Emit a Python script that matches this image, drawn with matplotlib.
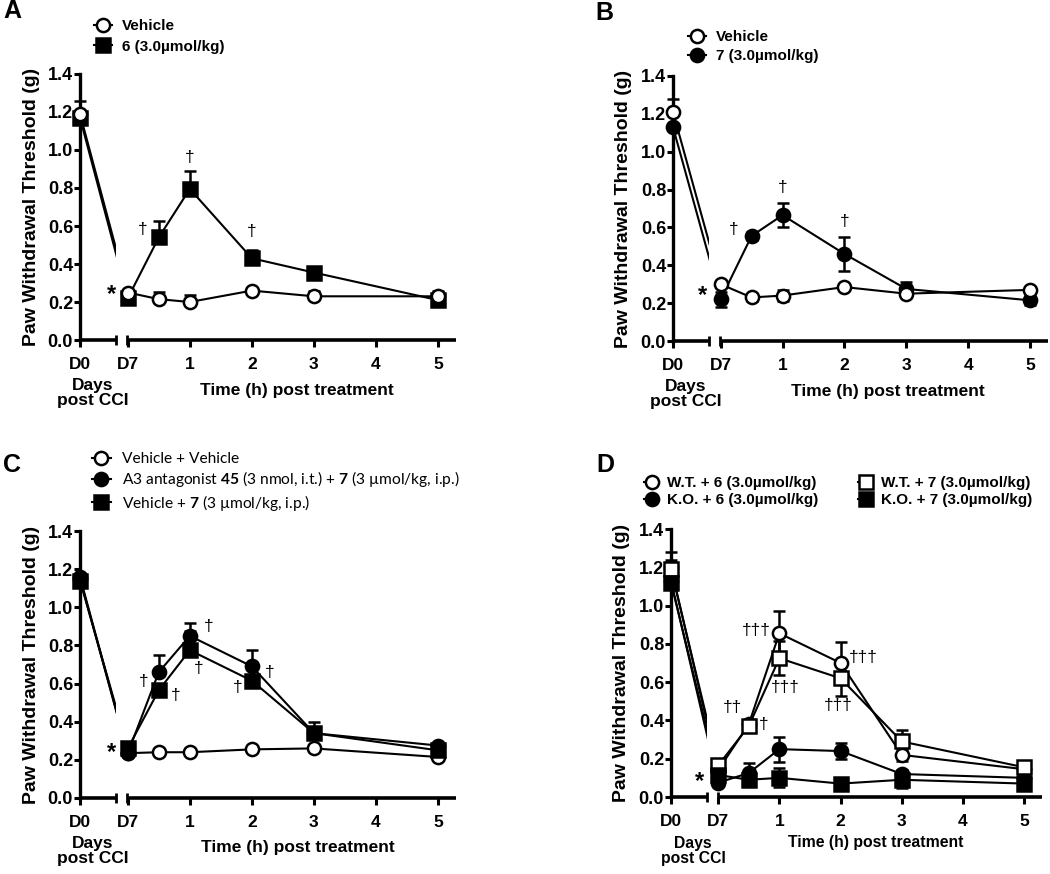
import numpy as np
import matplotlib
matplotlib.use("Agg")
import matplotlib.pyplot as plt
from matplotlib.patches import Rectangle
from matplotlib.transforms import blended_transform_factory

plt.rcParams['font.family'] = ['Liberation Sans', 'DejaVu Sans']
plt.rcParams['mathtext.fontset'] = 'custom'
plt.rcParams['mathtext.rm'] = 'Lato'
plt.rcParams['mathtext.bf'] = 'Lato:bold'

# time after treatment (h); D7 baseline sits at 0, D0 left of the axis break
times = [0, 0.5, 1, 2, 3, 5]
d0_pos = -0.77
xtick_pos = [d0_pos, 0, 1, 2, 3, 4, 5]
xtick_labels = ['D0', 'D7', '1', '2', '3', '4', '5']
yticks = [0.0, 0.2, 0.4, 0.6, 0.8, 1.0, 1.2, 1.4]

# ---- panel A
a_names = ['Vehicle', '6 (3.0µmol/kg)']
a_d0 = [1.19, 1.17]
a_d0_err = [0.07, 0.0]
a_mean = [[0.25, 0.215, 0.20, 0.26, 0.23, 0.23],
          [0.22, 0.54, 0.795, 0.43, 0.355, 0.21]]
a_sem = [[0.01, 0.04, 0.035, 0.01, 0.03, 0.03],
         [0.01, 0.085, 0.095, 0.045, 0.025, 0.02]]
a_marks = [('o', 'white'), ('s', 'black')]
a_sig = [(0.24, 0.58, '†'), (1.0, 0.96, '†'), (2.0, 0.57, '†')]
a_star = (-0.27, 0.24)

# ---- panel B
b_names = ['Vehicle', '7 (3.0µmol/kg)']
b_d0 = [1.21, 1.13]
b_d0_err = [0.07, 0.01]
b_mean = [[0.30, 0.23, 0.24, 0.285, 0.25, 0.27],
          [0.22, 0.555, 0.665, 0.46, 0.275, 0.215]]
b_sem = [[0.01, 0.02, 0.03, 0.01, 0.02, 0.01],
         [0.04, 0.02, 0.065, 0.09, 0.035, 0.025]]
b_marks = [('o', 'white'), ('o', 'black')]
b_sig = [(0.21, 0.59, '†'), (1.0, 0.81, '†'), (2.0, 0.63, '†')]
b_star = (-0.29, 0.24)

# ---- panel C
c_names = ['Vehicle + Vehicle',
           r'A3 antagonist $\mathbf{45}$ (3 nmol, i.t.) + $\mathbf{7}$ (3 µmol/kg, i.p.)',
           r'Vehicle + $\mathbf{7}$ (3 µmol/kg, i.p.)']
c_d0 = [1.15, 1.16, 1.14]
c_d0_err = [0.01, 0.01, 0.01]
c_mean = [[0.235, 0.24, 0.24, 0.255, 0.26, 0.215],
          [0.235, 0.66, 0.85, 0.69, 0.34, 0.275],
          [0.26, 0.565, 0.775, 0.615, 0.34, 0.25]]
c_sem = [[0.01, 0.01, 0.015, 0.02, 0.01, 0.01],
         [0.02, 0.09, 0.065, 0.085, 0.06, 0.01],
         [0.02, 0.03, 0.10, 0.09, 0.03, 0.01]]
c_marks = [('o', 'white'), ('o', 'black'), ('s', 'black')]
c_sig = [(0.26, 0.61, '†'), (0.77, 0.54, '†'), (1.3, 0.90, '†'),
         (1.15, 0.68, '†'), (1.77, 0.58, '†'), (2.28, 0.66, '†')]
c_star = (-0.27, 0.24)

# ---- panel D
d_names = ['W.T. + 6 (3.0µmol/kg)', 'K.O. + 6 (3.0µmol/kg)',
           'W.T. + 7 (3.0µmol/kg)', 'K.O. + 7 (3.0µmol/kg)']
d_d0 = [1.20, 1.13, 1.19, 1.12]
d_d0_err = [0.08, 0.02, 0.05, 0.02]
d_mean = [[0.14, 0.38, 0.855, 0.70, 0.22, 0.145],
          [0.075, 0.125, 0.25, 0.24, 0.12, 0.10],
          [0.165, 0.37, 0.725, 0.62, 0.29, 0.155],
          [0.115, 0.09, 0.10, 0.07, 0.09, 0.07]]
d_sem = [[0.03, 0.02, 0.115, 0.11, 0.03, 0.02],
         [0.01, 0.055, 0.065, 0.04, 0.02, 0.01],
         [0.03, 0.03, 0.09, 0.09, 0.06, 0.025],
         [0.02, 0.02, 0.05, 0.01, 0.045, 0.02]]
d_marks = [('o', 'white'), ('o', 'black'), ('s', 'white'), ('s', 'black')]
d_sig = [(0.62, 0.87, '†††'), (2.37, 0.73, '†††'), (1.09, 0.57, '†††'),
         (1.97, 0.48, '†††'), (0.23, 0.47, '††'), (0.75, 0.38, '†')]
d_star = (-0.31, 0.08)

W, H = 1050, 874
fig = plt.figure(figsize=(W / 100, H / 100), dpi=100)


def panel(box, letter, letter_xy, names, d0, d0_err, mean, sem, marks, sig, star,
          both, leg_xy, leg_kw, days_x, time_x, lab_y, lab_size, first_on_top=True):
    left, top, right, bottom = box
    ax = fig.add_axes([left / W, 1 - bottom / H, (right - left) / W, (bottom - top) / H])
    ax.set_xlim(-0.77, 5.29)
    ax.set_ylim(0, 1.4)
    handles = [None] * len(names)
    order = range(len(names))
    if first_on_top:
        order = reversed(order)
    for i in order:
        m, fc = marks[i]
        ms = 9.5 if m == 'o' else 10.5
        # D0 -> D7 line, only visible left of the axis break
        seg, = ax.plot([d0_pos, times[0]], [d0[i], mean[i][0]], color='black', lw=1.5, zorder=2)
        seg.set_clip_path(Rectangle((-2, -1), 2 - 0.19, 4, transform=ax.transData))
        xs = [d0_pos] + times
        ys = [d0[i]] + mean[i]
        up = np.array([d0_err[i]] + sem[i])
        lo = up if both else np.zeros_like(up)
        ax.errorbar(xs, ys, yerr=[lo, up], fmt='none', ecolor='black', elinewidth=1.8,
                    capsize=4.5, capthick=1.8, zorder=3, clip_on=False)
        ax.plot([d0_pos], [d0[i]], ls='none', marker=m, ms=ms, mfc=fc, mec='black',
                mew=1.8, zorder=4, clip_on=False)
        ln, = ax.plot(times, mean[i], color='black', lw=1.5, marker=m, ms=ms, mfc=fc,
                      mec='black', mew=1.8, zorder=4, clip_on=False)
        handles[i] = ln

    for s in ['top', 'right', 'bottom']:
        ax.spines[s].set_visible(False)
    ax.spines['left'].set_linewidth(2.4)
    # broken x axis
    ax.plot([-0.77, -0.19], [0, 0], color='black', lw=2.6, clip_on=False, solid_capstyle='butt')
    ax.plot([-0.01, 5.29], [0, 0], color='black', lw=2.6, clip_on=False, solid_capstyle='butt')
    ax.plot([-0.19, -0.01], [0, 0], ls='none', marker='|', ms=7, mew=2, color='black', clip_on=False)

    ax.set_xticks(xtick_pos, xtick_labels)
    ax.set_yticks(yticks, [f'{v:.1f}' for v in yticks])
    ax.tick_params(axis='both', width=2.2, direction='out', labelsize=13)
    ax.tick_params(axis='x', length=5, pad=7, labelsize=12.5)
    ax.tick_params(axis='y', length=4, pad=1)
    for lab in ax.get_xticklabels() + ax.get_yticklabels():
        lab.set_fontweight('bold')

    ax.text(-49 / (right - left), 0.5, 'Paw Withdrawal Threshold (g)', transform=ax.transAxes,
            rotation=90, ha='center', va='center', fontsize=14, fontweight='bold')

    tr = blended_transform_factory(ax.transData, ax.transAxes)
    ax.text(days_x, lab_y[0], 'Days\npost CCI', transform=tr, ha='center', va='center',
            fontsize=lab_size, fontweight='bold', linespacing=1.0)
    ax.text(time_x, lab_y[1], 'Time (h) post treatment', transform=tr, ha='center',
            va='center', fontsize=lab_size, fontweight='bold')

    for x, y, s in sig:
        ax.text(x, y, s, ha='center', va='center', fontsize=12.5)
    ax.text(star[0], star[1], '*', ha='center', va='center', fontsize=17, fontweight='bold')

    fig.text(letter_xy[0] / W, 1 - letter_xy[1] / H, letter, ha='left', va='baseline',
             fontsize=18, fontweight='bold')

    ax.legend(handles, names, loc='upper left', bbox_to_anchor=(leg_xy[0] / W, 1 - leg_xy[1] / H),
              bbox_transform=fig.transFigure, frameon=False, borderpad=0, borderaxespad=0,
              **leg_kw)
    return ax


bold_leg = dict(prop=dict(size=11, weight='bold'), handlelength=1.2, handletextpad=0.6,
                labelspacing=0.44)

panel((80, 74, 456, 340), 'A', (3, 18), a_names, a_d0, a_d0_err, a_mean, a_sem, a_marks,
      a_sig, a_star, False, (94, 19), bold_leg, -0.56, 2.73, (-0.2, -0.188), 12.5)

panel((673, 76, 1048, 341), 'B', (595, 20), b_names, b_d0, b_d0_err, b_mean, b_sem, b_marks,
      b_sig, b_star, True, (688, 30), dict(bold_leg, labelspacing=0.32), -0.56, 2.71,
      (-0.2, -0.19), 12.5)

panel((80, 531, 456, 798), 'C', (3, 472), c_names, c_d0, c_d0_err, c_mean, c_sem, c_marks,
      c_sig, c_star, False, (92, 452),
      dict(prop=dict(family=['Lato', 'DejaVu Sans'], size=11.2), handlelength=1.2,
           handletextpad=0.75, labelspacing=0.22), -0.56, 2.74, (-0.2, -0.187), 12.5,
      first_on_top=False)

panel((671, 529, 1042, 797), 'D', (596, 472), d_names, d_d0, d_d0_err, d_mean, d_sem, d_marks,
      d_sig, d_star, True, (644, 476),
      dict(prop=dict(size=11, weight='bold'), handlelength=1.0, handletextpad=0.5,
           labelspacing=0.2, ncol=2, columnspacing=2.6), -0.41, 2.58, (-0.2, -0.17), 11.3,
      first_on_top=False)

fig.savefig('out.png', dpi=100)
